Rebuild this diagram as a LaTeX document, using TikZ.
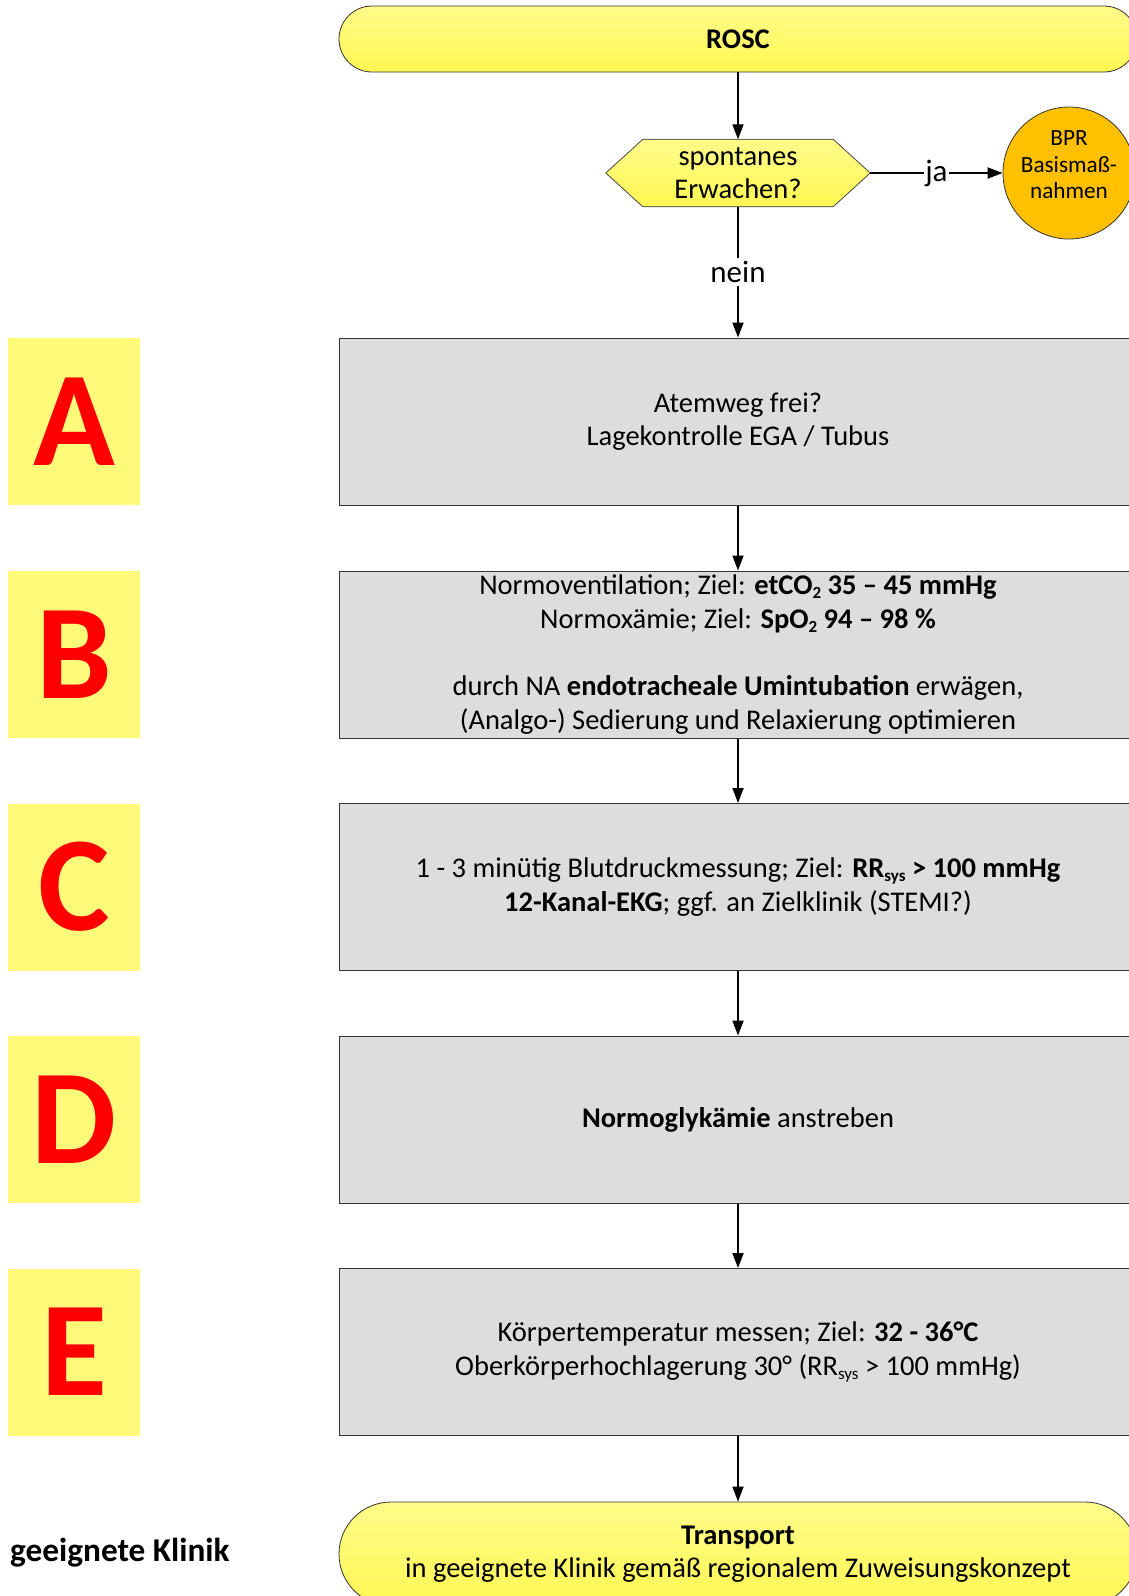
\documentclass[tikz,border=0pt]{standalone}
\usepackage{fontspec}
\setmainfont{Carlito}
\usetikzlibrary{arrows.meta,calc}
\definecolor{yelTop}{HTML}{FFFC8A}
\definecolor{yelBot}{HTML}{FFF752}
\definecolor{letteryel}{HTML}{FFFA7A}
\definecolor{boxgray}{HTML}{DDDDDD}
\definecolor{bprorange}{HTML}{FFC000}
\definecolor{lettred}{HTML}{FF0000}
\newcommand\mysub[1]{\raisebox{-0.28ex}{\fontsize{17}{17}\selectfont #1}}
\begin{document}
\begin{tikzpicture}[x=1pt,y=-1pt,
  maintext/.style={font=\fontsize{28.5}{33.6}\selectfont},
  greybox/.style={draw=black!80, fill=boxgray, line width=1pt, minimum width=798pt,
    minimum height=167pt, inner sep=0pt, align=center, maintext},
  letterbox/.style={fill=letteryel, minimum width=132pt, minimum height=167pt,
    inner sep=0pt, text=lettred, font=\fontsize{135}{135}\selectfont\bfseries},
  termbox/.style={draw=black!80, line width=0.8pt, top color=yelTop, bottom color=yelBot,
    minimum width=798pt, inner sep=0pt, align=center, maintext},
  arr/.style={-{Triangle[length=15pt,width=11pt]}, line width=1.8pt},
  lbl/.style={fill=white, font=\fontsize{31}{36}\selectfont}
]
\useasboundingbox (0,0) rectangle (1129,1596);
\clip (0,0) rectangle (1129,1596);

% terminal top
\node[termbox, minimum height=66pt, rounded corners=33pt] (rosc) at (738,39) {\textbf{ROSC}};

% decision hexagon
\node[minimum width=264pt, minimum height=67pt, inner sep=0pt, align=center, maintext] (hex) at (738,173) {spontanes\\Erwachen?};
\fill[top color=yelTop, bottom color=yelBot] (hex.west) -- ($(hex.north west)+(37,0)$) -- ($(hex.north east)+(-37,0)$) -- (hex.east) -- ($(hex.south east)+(-37,0)$) -- ($(hex.south west)+(37,0)$) -- cycle;
\draw[black!70, line width=0.8pt] (hex.west) -- ($(hex.north west)+(37,0)$) -- ($(hex.north east)+(-37,0)$) -- (hex.east) -- ($(hex.south east)+(-37,0)$) -- ($(hex.south west)+(37,0)$) -- cycle;
\node[inner sep=0pt, align=center, maintext] (hextext) at (hex.center) {spontanes\\Erwachen?};

% BPR circle
\node[circle, draw=black!80, line width=0.8pt, fill=bprorange, minimum size=132pt, inner sep=0pt] (bpr) at (1069,173) {};
\node[inner sep=0pt, align=center, font=\fontsize{23.2}{26.5}\selectfont] (bprtext) at (1069,165) {BPR\\Basismaß-\\nahmen};

% grey boxes
\node[greybox] (boxA) at (738,421.5) {Atemweg frei?\\Lagekontrolle EGA / Tubus};
\node[greybox] (boxB) at (738,654.5) {Normoventilation; Ziel: \textbf{etCO\mysub{2} 35 – 45 mmHg}\\
  Normoxämie; Ziel: \textbf{SpO\mysub{2} 94 – 98 \%}\\[33.6pt]
  durch NA \textbf{endotracheale Umintubation} erwägen,\\
  (Analgo-) Sedierung und Relaxierung optimieren};
\node[greybox] (boxC) at (738,887) {1 - 3 minütig Blutdruckmessung; Ziel: \textbf{RR\mysub{sys} > 100 mmHg}\\
  \textbf{12-Kanal-EKG}; ggf. an Zielklinik (STEMI?)};
\node[greybox] (boxD) at (738,1119.5) {\textbf{Normoglykämie} anstreben};
\node[greybox] (boxE) at (738,1352) {Körpertemperatur messen; Ziel: \textbf{32 - 36°C}\\
  Oberkörperhochlagerung 30° (RR\mysub{sys} > 100 mmHg)};

% terminal bottom
\node[termbox, minimum height=104pt, rounded corners=52pt] (transport) at (738,1554) {\textbf{Transport}\\in geeignete Klinik gemäß regionalem Zuweisungskonzept};

% letter boxes
\node[letterbox] (la) at (74,421.5) {A};
\node[letterbox] (lb) at (74,654.5) {B};
\node[letterbox] (lc) at (74,887) {C};
\node[letterbox] (ld) at (74,1119.5) {D};
\node[letterbox] (le) at (74,1352) {E};

% side text
\node[anchor=west, inner sep=0pt, font=\fontsize{33.3}{38}\selectfont\bfseries] (klinik) at (10,1553) {geeignete Klinik};

% connectors
\draw[arr] (rosc.south) -- (hex.north);
\draw[arr] (hex.east) -- node[lbl, inner sep=1pt] {ja} (bpr.west);
\draw[arr] (hex.south) -- node[lbl, inner sep=3pt] {nein} (boxA.north);
\draw[arr] (boxA.south) -- (boxB.north);
\draw[arr] (boxB.south) -- (boxC.north);
\draw[arr] (boxC.south) -- (boxD.north);
\draw[arr] (boxD.south) -- (boxE.north);
\draw[arr] (boxE.south) -- (transport.north);
\end{tikzpicture}
\end{document}
